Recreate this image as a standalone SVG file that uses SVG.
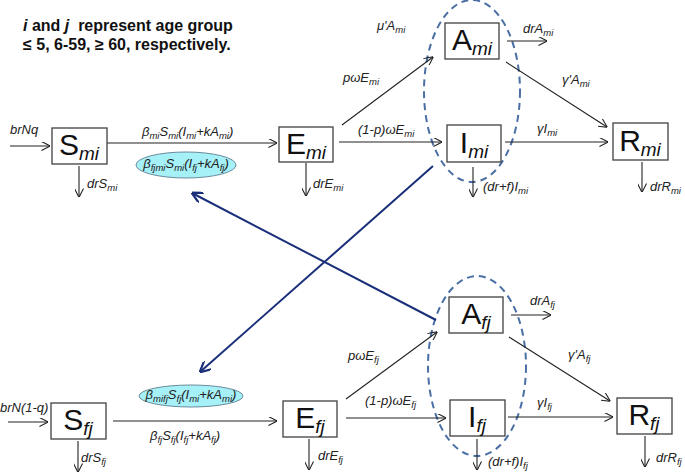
<svg xmlns="http://www.w3.org/2000/svg" width="685" height="474" viewBox="0 0 685 474">
<style>
.box{fill:#fff;stroke:#404040;stroke-width:1.3}
.nl{font-family:"Liberation Sans",Arial,sans-serif;font-size:30px;fill:#111}
.ns{font-size:19px;font-style:italic}
.el{font-family:"Liberation Sans",Arial,sans-serif;font-size:13px;font-style:italic;fill:#222}
.s{font-size:9.5px}
.ar{stroke:#222;stroke-width:1.1;fill:none;marker-end:url(#ah)}
.nv{stroke:#1a2f7a;stroke-width:2;fill:none;marker-end:url(#ahn)}
.dash{fill:none;stroke:#4a6fa5;stroke-width:2;stroke-dasharray:7 5}
.cy{fill:#a6f0f7;stroke:#6a8c9c;stroke-width:1}
.tt{font-family:"Liberation Sans",Arial,sans-serif;font-size:16px;font-weight:bold;fill:#111}
</style>
<defs>
<marker id="ah" viewBox="0 0 10 10" refX="9.5" refY="5" markerWidth="9" markerHeight="9" markerUnits="userSpaceOnUse" orient="auto"><path d="M0,0 L10,5 L0,10" fill="none" stroke="#222" stroke-width="1.2"/></marker>
<marker id="ahn" viewBox="0 0 10 10" refX="9.5" refY="5" markerWidth="11" markerHeight="11" markerUnits="userSpaceOnUse" orient="auto"><path d="M0,0 L10,5 L0,10" fill="none" stroke="#1a2f7a" stroke-width="2"/></marker>
</defs>
<rect width="685" height="474" fill="#fff"/>

<text class="tt" x="23" y="31" xml:space="preserve"><tspan font-style="italic">i</tspan> and <tspan font-style="italic">j</tspan>  represent age group</text>
<text class="tt" x="23" y="50">≤ 5, 6-59, ≥ 60, respectively.</text>

<g id="groups">
<ellipse class="dash" cx="472" cy="91" rx="48" ry="91"/>
<ellipse class="dash" cx="477" cy="366" rx="49" ry="90"/>
</g>

<g id="connectors">
<line class="ar" x1="10" y1="146" x2="50" y2="146"/>
<line class="ar" x1="107" y1="143" x2="277" y2="143"/>
<line class="ar" x1="79" y1="166" x2="79" y2="197"/>
<line class="ar" x1="306" y1="163" x2="306" y2="196"/>
<line class="ar" x1="339" y1="142" x2="442" y2="142"/>
<line class="ar" x1="342" y1="125" x2="433" y2="57"/>
<line class="ar" x1="507" y1="41" x2="547" y2="41"/>
<line class="ar" x1="506" y1="62" x2="607" y2="127"/>
<line class="ar" x1="505" y1="142" x2="608" y2="142"/>
<line class="ar" x1="473" y1="167" x2="473" y2="197"/>
<line class="ar" x1="642" y1="162" x2="642" y2="192"/>

<line class="ar" x1="8" y1="422" x2="48" y2="422"/>
<line class="ar" x1="113" y1="421" x2="277" y2="421"/>
<line class="ar" x1="78" y1="441" x2="78" y2="472"/>
<line class="ar" x1="309" y1="439" x2="309" y2="470"/>
<line class="ar" x1="346" y1="418" x2="446" y2="418"/>
<line class="ar" x1="346" y1="399" x2="437" y2="332"/>
<line class="ar" x1="511" y1="315" x2="551" y2="315"/>
<line class="ar" x1="509" y1="337" x2="610" y2="401"/>
<line class="ar" x1="508" y1="417" x2="613" y2="417"/>
<line class="ar" x1="477" y1="439" x2="477" y2="470"/>
<line class="ar" x1="645" y1="436" x2="645" y2="467"/>

<line class="nv" x1="436" y1="320" x2="192" y2="193"/>
<line class="nv" x1="433" y1="166" x2="200" y2="372"/>
</g>

<g id="node-S_mi"><rect class="box" x="52" y="128" width="55" height="36"/><text class="nl" x="79" y="155" text-anchor="middle">S<tspan class="ns" dy="5">mi</tspan></text></g>
<g id="node-E_mi"><rect class="box" x="279" y="127" width="54" height="35"/><text class="nl" x="306" y="154" text-anchor="middle">E<tspan class="ns" dy="5">mi</tspan></text></g>
<g id="node-A_mi"><rect class="box" x="445" y="23" width="54" height="36"/><text class="nl" x="472" y="50" text-anchor="middle">A<tspan class="ns" dy="5">mi</tspan></text></g>
<g id="node-I_mi"><rect class="box" x="447" y="125" width="54" height="37"/><text class="nl" x="474" y="153" text-anchor="middle">I<tspan class="ns" dy="5">mi</tspan></text></g>
<g id="node-R_mi"><rect class="box" x="613" y="123" width="55" height="37"/><text class="nl" x="640" y="151" text-anchor="middle">R<tspan class="ns" dy="5">mi</tspan></text></g>

<g id="node-A_fj"><rect class="box" x="449" y="297" width="54" height="36"/><text class="nl" x="476" y="324" text-anchor="middle">A<tspan class="ns" dy="5">fj</tspan></text></g>
<g id="node-S_fj"><rect class="box" x="51" y="403" width="55" height="36"/><text class="nl" x="78" y="430" text-anchor="middle">S<tspan class="ns" dy="5">fj</tspan></text></g>
<g id="node-E_fj"><rect class="box" x="283" y="401" width="54" height="36"/><text class="nl" x="310" y="428" text-anchor="middle">E<tspan class="ns" dy="5">fj</tspan></text></g>
<g id="node-I_fj"><rect class="box" x="450" y="400" width="55" height="36"/><text class="nl" x="477" y="427" text-anchor="middle">I<tspan class="ns" dy="5">fj</tspan></text></g>
<g id="node-R_fj"><rect class="box" x="617" y="398" width="55" height="36"/><text class="nl" x="644" y="425" text-anchor="middle">R<tspan class="ns" dy="5">fj</tspan></text></g>

<g id="node-cross-mi"><ellipse class="cy" cx="186" cy="165" rx="50" ry="13"/>
<text class="el" x="186" y="168" text-anchor="middle">β<tspan class="s" dy="3">fjmi</tspan><tspan dy="-3">S</tspan><tspan class="s" dy="3">mi</tspan><tspan dy="-3">(I</tspan><tspan class="s" dy="3">fj</tspan><tspan dy="-3">+kA</tspan><tspan class="s" dy="3">fj</tspan><tspan dy="-3">)</tspan></text></g>
<g id="node-cross-fj"><ellipse class="cy" cx="191" cy="396" rx="52" ry="11"/>
<text class="el" x="191" y="399" text-anchor="middle">β<tspan class="s" dy="3">mifj</tspan><tspan dy="-3">S</tspan><tspan class="s" dy="3">fj</tspan><tspan dy="-3">(I</tspan><tspan class="s" dy="3">mi</tspan><tspan dy="-3">+kA</tspan><tspan class="s" dy="3">mi</tspan><tspan dy="-3">)</tspan></text></g>

<g id="labels">
<text class="el" x="10" y="134">brNq</text>
<text class="el" x="142" y="136">β<tspan class="s" dy="3">mi</tspan><tspan dy="-3">S</tspan><tspan class="s" dy="3">mi</tspan><tspan dy="-3">(I</tspan><tspan class="s" dy="3">mi</tspan><tspan dy="-3">+kA</tspan><tspan class="s" dy="3">mi</tspan><tspan dy="-3">)</tspan></text>
<text class="el" x="87" y="188">drS<tspan class="s" dy="3">mi</tspan></text>
<text class="el" x="313" y="188">drE<tspan class="s" dy="3">mi</tspan></text>
<text class="el" x="377" y="30">μ'A<tspan class="s" dy="3">mi</tspan></text>
<text class="el" x="343" y="82">pωE<tspan class="s" dy="3">mi</tspan></text>
<text class="el" x="358" y="134">(1-p)ωE<tspan class="s" dy="3">mi</tspan></text>
<text class="el" x="523" y="33">drA<tspan class="s" dy="3">mi</tspan></text>
<text class="el" x="562" y="84">γ'A<tspan class="s" dy="3">mi</tspan></text>
<text class="el" x="537" y="133">γI<tspan class="s" dy="3">mi</tspan></text>
<text class="el" x="483" y="191">(dr+f)I<tspan class="s" dy="3">mi</tspan></text>
<text class="el" x="650" y="191">drR<tspan class="s" dy="3">mi</tspan></text>

<text class="el" x="0" y="412">brN(1-q)</text>
<text class="el" x="150" y="440">β<tspan class="s" dy="3">fj</tspan><tspan dy="-3">S</tspan><tspan class="s" dy="3">fj</tspan><tspan dy="-3">(I</tspan><tspan class="s" dy="3">fj</tspan><tspan dy="-3">+kA</tspan><tspan class="s" dy="3">fj</tspan><tspan dy="-3">)</tspan></text>
<text class="el" x="81" y="462">drS<tspan class="s" dy="3">fj</tspan></text>
<text class="el" x="318" y="460">drE<tspan class="s" dy="3">fj</tspan></text>
<text class="el" x="348" y="360">pωE<tspan class="s" dy="3">fj</tspan></text>
<text class="el" x="365" y="405">(1-p)ωE<tspan class="s" dy="3">fj</tspan></text>
<text class="el" x="530" y="305">drA<tspan class="s" dy="3">fj</tspan></text>
<text class="el" x="568" y="359">γ'A<tspan class="s" dy="3">fj</tspan></text>
<text class="el" x="537" y="407">γI<tspan class="s" dy="3">fj</tspan></text>
<text class="el" x="488" y="466">(dr+f)I<tspan class="s" dy="3">fj</tspan></text>
<text class="el" x="656" y="462">drR<tspan class="s" dy="3">fj</tspan></text>
</g>
</svg>
